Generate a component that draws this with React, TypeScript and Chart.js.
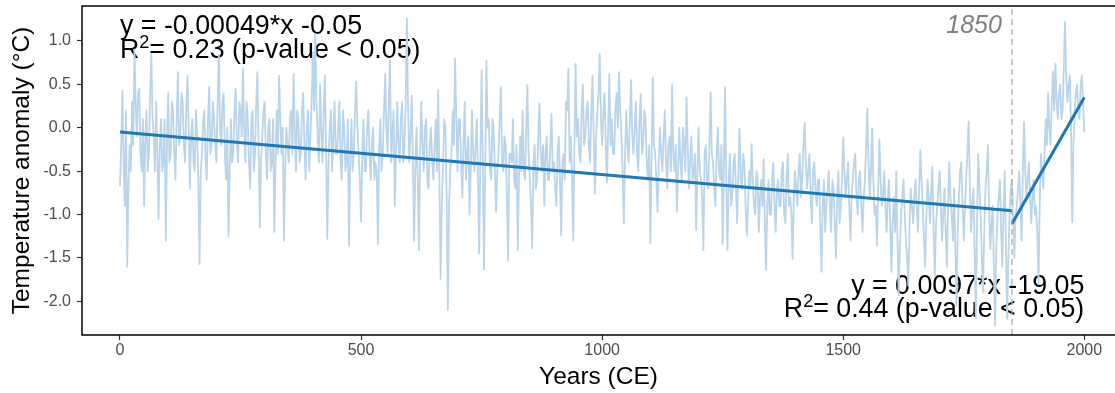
import React, { useEffect, useRef } from 'react';
import { Chart, registerables } from 'chart.js';

Chart.register(...registerables);

// ---- DATA (temperature anomaly, °C) ----
// values at years 0, 5, 10, ... 2000
const STEP_YEARS = 5;
const anomaly0to495 = [
  -0.67, 0.43, -0.9, -1.6, -0.2, 0.3, 0.9, -0.1, 0.45, -0.5,
  -0.9, 0.2, -0.3, 0.85, -0.1, 0.3, -1.05, 0.1, -0.4, -1.3,
  0.4, -0.3, 0.2, -0.6, 0.64, -0.1, 0.3, -0.4, 0.6, -0.7,
  0.1, -0.5, -0.1, -1.57, -0.3, 0.2, -0.6, 0.47, -0.2, 0.1,
  -0.4, 0.84, -0.2, 0.4, -0.6, -1.25, 0.1, -0.3, 0.45, -0.4,
  0.2, 0.68, -0.4, 0.1, -0.7, 0.2, -0.3, 0.64, -1.15, -0.1,
  0.3, -0.6, 0.1, -0.4, -1.2, 0.2, 0.6, -0.3, -1.3, 0.0,
  -0.4, 0.2, 0.62, -0.5, 0.1, -0.3, 0.4, -0.6, 0.2, -0.1,
  0.87, 1.08, -0.1, 0.5, -0.4, 0.6, -1.28, 0.0, -0.5, 0.3,
  -0.3, 0.3, -0.6, 0.0, -0.4, -1.36, 0.1, -0.3, 0.53, -0.3,
];
const anomaly500to995 = [
  -1.08, 0.1, -0.5, 0.2, -0.6, 0.0, -0.4, -1.34, 0.1, -0.3,
  0.62, -0.3, 0.78, -0.1, -0.9, 0.3, -0.4, 0.3, -0.2, 1.26,
  -0.4, 0.37, -1.3, 0.0, -1.41, 0.3, -0.5, 0.1, -0.7, 0.0,
  -0.6, 0.1, 0.43, -1.74, -0.4, 0.0, -2.1, -0.5, 0.2, 0.8,
  -0.5, 0.1, -0.8, 0.3, -0.3, -1.0, 0.2, -0.5, 0.1, -1.45,
  0.66, -1.63, 0.77, 0.1, -0.6, 0.0, -0.97, -0.3, 0.47, -0.5,
  -0.2, -1.53, -0.3, 0.1, -0.7, -1.41, -0.1, 0.2, -0.6, 0.49,
  -0.6, -1.39, -0.2, -0.6, 0.28, -0.5, -0.9, -0.1, -0.6, 0.16,
  -0.4, -0.9, -0.1, -1.24, -0.3, 0.3, 0.68, -0.1, -1.3, 0.74,
  0.1, -0.4, 0.5, -0.1, 0.3, -0.4, 0.6, -0.76, 0.2, 0.85,
];
const anomaly1000to1495 = [
  -0.2, 0.4, -0.63, 0.62, 0.1, -0.3, 0.4, 0.64, -0.1, -1.1,
  0.2, -0.4, 0.55, -0.3, 0.3, -0.5, 0.39, -0.2, 0.1, -0.6,
  -1.33, 0.58, -0.3, -0.97, 0.0, -0.5, 0.2, -0.7, -0.1, 0.49,
  -0.5, -0.97, 0.0, -0.6, -0.2, 0.35, -0.7, -0.1, -0.5, -1.18,
  0.0, -0.6, -1.41, -0.2, -0.7, 0.41, -0.4, -0.9, 0.0, -0.6,
  -1.34, 0.47, -1.41, -0.3, -0.8, -0.3, -1.1, -0.01, -0.7, -0.4,
  -1.24, -0.5, -0.19, -0.9, -0.5, -1.2, -0.6, -0.36, -1.64, -0.6,
  -1.0, -0.4, -1.2, -0.6, -0.9, -0.4, -1.1, -0.3, -0.8, -1.51,
  -0.5, -0.9, -0.3, -0.6, 0.06, -0.7, -0.3, -1.1, -0.4, -0.9,
  -0.6, -1.66, -0.6, -0.9, -0.5, -1.2, -0.7, -1.5, -0.5, -0.9,
];
const anomaly1500to2000 = [
  -0.11, -0.8, -0.4, -1.3, -0.6, -0.3, -1.0, -0.5, -1.2, -0.6,
  0.22, -0.8, -0.01, -1.0, -1.36, -0.13, -0.9, -0.5, -1.2, -0.6,
  -1.66, -0.8, -0.5, -1.93, -1.0, -0.6, -1.3, -1.82, -0.7, -1.1,
  -0.6, -1.2, -0.26, -0.9, -1.6, -0.6, -1.1, -0.45, -1.7, -0.9,
  -0.5, -1.3, -0.7, -1.6, -0.4, -1.0, -0.7, -2.05, -0.8, -0.4,
  -1.3, -0.6, 0.07, -1.2, -0.7, -2.2, -0.3, -1.0, -1.9, -0.7,
  -0.2, -1.4, -0.9, -2.28, -1.0, -0.6, -1.6, -0.5, -2.2, -1.0,
  -0.6, -1.5, -0.9, -0.5, -1.3, 0.07, -0.8, -0.4, -1.1, -0.6,
  -0.9, -1.8, -0.3, -0.7, 0.1, 0.4, -0.2, 0.65, 0.74, 0.1,
  0.5, 0.2, 1.22, 0.3, 0.6, -1.09, 0.2, 0.5, 0.1, 0.6, -0.05,
];
// values at the in-between years 2.5, 7.5, ... 1997.5
const anomalyMid0to497 = [
  -0.2, -0.4, 0.2, -0.7, -0.5, -0.2, 0.3, 0.4, -0.3, 0.1,
  -0.1, -0.5, 0.4, 0.1, -0.5, -0.3, -0.2, -0.5, 0.1, -0.2,
  -0.4, 0.3, -0.3, 0.1, -0.2, 0.4, -0.2, 0.2, 0.0, -0.1,
  -0.4, 0.2, -0.6, -0.5, 0.1, -0.4, 0.1, -0.3, 0.3, -0.2,
  0.3, 0.0, 0.3, -0.3, 0.0, -0.5, -0.4, 0.2, -0.2, 0.3,
  -0.1, 0.0, 0.3, -0.4, 0.1, -0.5, 0.3, -0.2, -0.4, 0.2,
  -0.3, 0.0, -0.5, 0.1, -0.4, -0.3, 0.1, 0.0, -0.5, -0.2,
  0.1, -0.3, 0.0, 0.2, -0.4, 0.2, -0.2, 0.0, -0.5, 0.3,
  0.2, 0.3, -0.4, 0.0, 0.2, -0.3, -0.4, 0.2, -0.1, -0.3,
  0.0, -0.4, 0.2, -0.5, 0.1, -0.4, -0.5, 0.2, 0.0, -0.6,
];
const anomalyMid500to997 = [
  -0.3, -0.5, 0.0, -0.3, -0.2, -0.6, -0.5, -0.2, -0.5, 0.2,
  0.0, 0.3, -0.4, 0.2, -0.3, -0.2, 0.1, -0.4, 0.3, 0.2,
  -0.1, -0.4, -0.5, -0.6, -0.3, -0.2, 0.0, -0.6, -0.2, -0.4,
  -0.2, -0.5, -0.6, -0.9, 0.1, -0.8, -0.9, -0.3, -0.2, 0.1,
  0.1, -0.4, -0.2, -0.6, -0.1, -0.5, -0.3, -0.2, -0.6, -0.3,
  -0.4, -0.5, 0.0, -0.5, 0.1, -0.5, -0.5, 0.1, -0.4, -0.1,
  -0.8, -0.3, -0.4, -0.6, -0.2, -0.6, -0.5, -0.5, 0.0, -0.3,
  -0.9, -0.4, -0.7, -0.1, -0.3, -0.2, -0.3, -0.6, -0.2, -0.5,
  -0.7, -0.3, -0.6, -0.4, -0.6, 0.2, -0.4, -0.6, -0.2, -0.1,
  -0.3, 0.2, -0.2, 0.2, -0.2, 0.2, -0.1, -0.1, 0.4, 0.1,
];
const anomalyMid1000to1497 = [
  0.2, -0.2, 0.0, -0.2, -0.3, 0.2, 0.0, 0.2, -0.5, -0.3,
  -0.2, 0.1, -0.1, 0.0, -0.3, 0.1, -0.3, 0.2, -0.4, -0.2,
  -0.4, -0.2, -0.6, -0.4, -0.3, -0.1, -0.4, -0.2, -0.5, -0.3,
  -0.2, -0.5, -0.4, 0.0, -0.5, -0.2, -0.4, -0.6, -0.3, -0.5,
  -0.5, -0.8, -0.3, -0.6, -0.2, -0.3, -0.7, -0.3, -0.5, -0.2,
  -0.4, -0.7, -0.6, -0.9, -0.4, -0.7, -0.5, -0.6, -0.3, -0.9,
  -0.9, -0.7, -0.6, -1.0, -0.6, -0.8, -0.9, -1.1, -0.9, -1.0,
  -0.6, -0.9, -0.7, -0.9, -0.5, -1.0, -0.6, -0.9, -1.0, -0.8,
  -0.7, -0.5, -0.8, -0.2, -0.4, -0.5, -0.8, -0.5, -0.7, -0.6,
  -1.1, -0.9, -1.2, -0.7, -0.9, -0.6, -1.1, -0.8, -1.1, -0.6,
];
const anomalyMid1500to1997 = [
  -0.5, -0.6, -0.9, -0.8, -0.4, -0.8, -0.6, -0.9, -0.8, -0.2,
  -0.4, -0.5, -0.6, -0.9, -0.7, -0.6, -0.8, -0.9, -0.8, -1.1,
  -1.1, -1.2, -1.3, -1.4, -0.8, -1.0, -1.5, -1.1, -0.9, -0.8,
  -0.9, -0.7, -0.6, -1.3, -1.0, -0.8, -0.7, -1.2, -1.1, -0.7,
  -0.9, -1.0, -1.2, -0.9, -0.8, -1.3, -1.4, -1.2, -0.5, -0.9,
  -0.9, -0.3, -0.6, -0.9, -1.4, -1.1, -0.7, -1.5, -1.2, -0.5,
  -0.9, -1.1, -1.6, -1.4, -0.8, -1.2, -0.9, -1.4, -1.5, -0.7,
  -1.1, -1.0, -0.7, -0.9, -0.5, -0.5, -0.6, -0.8, -0.8, -1.0,
  -1.2, -0.9, -0.5, -0.3, -0.2, 0.0, 0.3, 0.2, 0.3, 0.4,
  0.1, 0.7, 0.6, 0.5, 0.0, -0.2, 0.4, 0.2, 0.5, 0.3,
];

// Regression fits shown in the figure
const fitBefore = { slope: -0.00049, intercept: -0.05, from: 0, to: 1850 };
const fitAfter = { slope: 0.0097, intercept: -19.05, from: 1850, to: 2000 };
const breakYear = 1850;

// Axis ticks and labels
const xTickValues = [0, 500, 1000, 1500, 2000];
const yTickValues = [-2, -1.5, -1, -0.5, 0, 0.5, 1];
const xRange = { min: -78.8, max: 2063.7 };
const yRange = { min: -2.388, max: 1.403 };
const xTitle = 'Years (CE)';
const yTitle = 'Temperature anomaly (°C)';
const eqBefore = 'y = -0.00049*x -0.05';
const r2Before = '0.23';
const eqAfter = 'y = 0.0097*x -19.05';
const r2After = '0.44';
const pText = ' (p-value < 0.05)';
const breakLabel = '1850';

const FONT = '"Liberation Sans", Arial, sans-serif';
const ANNOT_SIZE = 26.8;

function drawR2(ctx: CanvasRenderingContext2D, value: string, x: number, baseline: number, align: 'left' | 'right') {
  const big = `${ANNOT_SIZE}px ${FONT}`;
  const small = `18px ${FONT}`;
  const rest = '= ' + value + pText;
  ctx.font = big;
  const wR = ctx.measureText('R').width;
  const wRest = ctx.measureText(rest).width;
  ctx.font = small;
  const w2 = ctx.measureText('2').width;
  const total = wR + w2 + wRest;
  const sx = align === 'left' ? x : x - total;
  ctx.textAlign = 'left';
  ctx.font = big;
  ctx.fillText('R', sx, baseline);
  ctx.font = small;
  ctx.fillText('2', sx + wR, baseline - 10);
  ctx.font = big;
  ctx.fillText(rest, sx + wR + w2, baseline);
}

const decorPlugin = {
  id: 'decor',
  beforeDatasetsDraw(chart: any) {
    const { ctx, scales } = chart;
    const x = scales.x;
    const y = scales.y;
    ctx.save();
    ctx.fillStyle = '#000';
    ctx.textBaseline = 'alphabetic';
    ctx.font = `${ANNOT_SIZE}px ${FONT}`;
    const lx = x.getPixelForValue(0);
    ctx.textAlign = 'left';
    ctx.fillText(eqBefore, lx, y.getPixelForValue(1.075));
    drawR2(ctx, r2Before, lx, y.getPixelForValue(0.8), 'left');

    const rx = x.getPixelForValue(2000);
    ctx.font = `${ANNOT_SIZE}px ${FONT}`;
    ctx.textAlign = 'right';
    ctx.fillText(eqAfter, rx, y.getPixelForValue(-1.91));
    drawR2(ctx, r2After, rx, y.getPixelForValue(-2.185), 'right');

    ctx.font = `italic 25px ${FONT}`;
    ctx.fillStyle = '#808080';
    ctx.textAlign = 'right';
    ctx.fillText(breakLabel, x.getPixelForValue(1829), y.getPixelForValue(1.087));
    ctx.restore();
  },
  afterDraw(chart: any) {
    const { ctx, chartArea: a } = chart;
    ctx.save();
    ctx.strokeStyle = '#000';
    ctx.lineWidth = 1.5;
    ctx.beginPath();
    ctx.moveTo(a.right + 2, a.top);
    ctx.lineTo(a.left, a.top);
    ctx.lineTo(a.left, a.bottom);
    ctx.lineTo(a.right + 2, a.bottom);
    ctx.stroke();

    ctx.fillStyle = '#000';
    ctx.font = `24.5px ${FONT}`;
    ctx.textAlign = 'center';
    ctx.textBaseline = 'middle';
    ctx.fillText(xTitle, (a.left + a.right) / 2, 377);
    ctx.translate(22.5, (a.top + a.bottom) / 2);
    ctx.rotate(-Math.PI / 2);
    ctx.fillText(yTitle, 0, 0);
    ctx.restore();
  },
};

export default function App() {
  const ref = useRef<HTMLCanvasElement | null>(null);

  useEffect(() => {
    if (!ref.current) return;
    const main = [...anomaly0to495, ...anomaly500to995, ...anomaly1000to1495, ...anomaly1500to2000];
    const mid = [...anomalyMid0to497, ...anomalyMid500to997, ...anomalyMid1000to1497, ...anomalyMid1500to1997];
    const series: { x: number; y: number }[] = [];
    main.forEach((v, i) => {
      series.push({ x: i * STEP_YEARS, y: v });
      if (i < mid.length) series.push({ x: i * STEP_YEARS + STEP_YEARS / 2, y: mid[i] });
    });
    const fitLine = (f: typeof fitBefore) => [
      { x: f.from, y: f.slope * f.from + f.intercept },
      { x: f.to, y: f.slope * f.to + f.intercept },
    ];

    const chart = new Chart(ref.current, {
      type: 'line',
      data: {
        datasets: [
          {
            data: series,
            borderColor: 'rgb(186,213,233)',
            borderWidth: 1.8,
            borderJoinStyle: 'round',
            pointRadius: 0,
            tension: 0,
            order: 3,
          },
          {
            data: fitLine(fitBefore),
            borderColor: '#1F78B4',
            borderWidth: 3,
            pointRadius: 0,
            order: 2,
          },
          {
            data: fitLine(fitAfter),
            borderColor: '#1F78B4',
            borderWidth: 3,
            pointRadius: 0,
            order: 2,
          },
          {
            data: [
              { x: breakYear, y: yRange.min },
              { x: breakYear, y: yRange.max },
            ],
            borderColor: '#a6a6a6',
            borderWidth: 1.2,
            borderDash: [6, 4],
            pointRadius: 0,
            order: 1,
          },
        ],
      },
      options: {
        animation: false,
        responsive: false,
        devicePixelRatio: 1,
        events: [],
        layout: { padding: { top: 6, left: 0, right: 0, bottom: 0 } },
        plugins: { legend: { display: false }, tooltip: { enabled: false } },
        scales: {
          x: {
            type: 'linear',
            min: xRange.min,
            max: xRange.max,
            border: { display: false },
            grid: { display: true, drawOnChartArea: false, tickLength: 5, tickColor: '#333', tickWidth: 1.2 },
            ticks: {
              color: '#4d4d4d',
              font: { family: FONT, size: 16 },
              padding: 1,
              maxRotation: 0,
              autoSkip: false,
              callback: (v: any) => String(v),
            },
            afterBuildTicks: (s: any) => {
              s.ticks = xTickValues.map((v) => ({ value: v }));
            },
            afterFit: (s: any) => {
              s.height = 58;
              s.paddingLeft = 0;
              s.paddingRight = 0;
            },
          },
          y: {
            type: 'linear',
            min: yRange.min,
            max: yRange.max,
            border: { display: false },
            grid: { display: true, drawOnChartArea: false, tickLength: 5, tickColor: '#333', tickWidth: 1.2 },
            ticks: {
              color: '#4d4d4d',
              font: { family: FONT, size: 16 },
              padding: 6,
              autoSkip: false,
              callback: (v: any) => Number(v).toFixed(1),
            },
            afterBuildTicks: (s: any) => {
              s.ticks = yTickValues.map((v) => ({ value: v }));
            },
            afterFit: (s: any) => {
              s.width = 82;
              s.paddingTop = 0;
              s.paddingBottom = 0;
            },
          },
        },
      },
      plugins: [decorPlugin],
    });
    return () => chart.destroy();
  }, []);

  return (
    <div style={{ position: 'fixed', left: 0, top: 0, width: 1115, height: 393, background: '#fff' }}>
      <canvas ref={ref} width={1115} height={393} style={{ display: 'block', width: 1115, height: 393 }} />
    </div>
  );
}
